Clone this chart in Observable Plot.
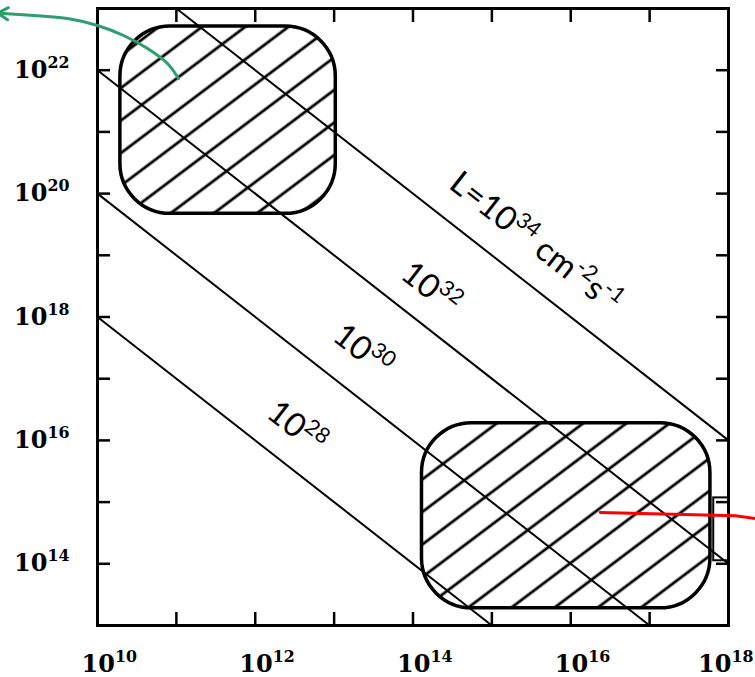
<!DOCTYPE html>
<html><head><meta charset="utf-8">
<script src="https://cdn.jsdelivr.net/npm/d3@7"></script>
<script src="https://cdn.jsdelivr.net/npm/@observablehq/plot@0.6"></script>
<style>body{margin:0;background:#fff}</style>
</head><body><div id="chart"></div>
<script>
// Luminosity lines (constant L), endpoints
const lumLabels = ["L=10{34} cm{-2}s{-1}", "10{32}", "10{30}", "10{28}"];
const lumStartX = [1e11, 1e10, 1e10, 1e10];
const lumStartY = [1e23, 1e22, 1e20, 1e18];
const lumEndX = [1e18, 1e18, 1e17, 1e15];
const lumEndY = [1e16, 1e14, 1e13, 1e13];
const labelX = [3.57e15, 1.67e14, 2.29e13, 3.33e12];
const labelY = [1.61e19, 2.9e18, 2.86e17, 1.62e16];

// Hatched regions
const regionNames = ["upper", "lower"];
const regionX1 = [1.95e10, 1.3e14];
const regionX2 = [1.05e13, 5.9e17];
const regionY1 = [4.7e19, 1.9e13];
const regionY2 = [5.1e22, 1.9e16];

// small bracket box at right edge
const boxX = [6.5e17, 1e18];
const boxY = [1.12e14, 1.17e15];

// Axes
const xTickValues = [1e11, 1e12, 1e13, 1e14, 1e15, 1e16, 1e17];
const xLabelValues = [1e10, 1e12, 1e14, 1e16];
const xLastLabel = [1e18];
const yTickValues = [1e14, 1e15, 1e16, 1e17, 1e18, 1e19, 1e20, 1e21, 1e22];
const yLabelValues = [1e14, 1e16, 1e18, 1e20, 1e22];

// Annotations: green curved arrow (points along the curve, tip last)
const greenCurveX = [1.064e11, 7.72e10, 4.31e10, 2.14e10, 1e10, 4.17e9, 1.55e9];
const greenCurveY = [7.33e21, 1.285e22, 2.25e22, 3.65e22, 5.3e22, 6.88e22, 7.71e22];
const greenTipX = 5.4e8;
const greenTipY = 8.45e22;
const redLineX = [2.37e16, 1.22e18, 2.19e18];
const redLineY = [6.8e14, 6.0e14, 5.4e14];

const segments = lumLabels.map((l, i) => ({label: l, x1: lumStartX[i], y1: lumStartY[i], x2: lumEndX[i], y2: lumEndY[i], lx: labelX[i], ly: labelY[i]}));
const regions = regionNames.map((n, i) => ({name: n, x1: regionX1[i], x2: regionX2[i], y1: regionY1[i], y2: regionY2[i]}));
const redPts = redLineX.map((x, i) => ({x, y: redLineY[i]}));
const greenPts = greenCurveX.map((x, i) => ({x, y: greenCurveY[i]}));
const greenHead = [{x1: greenCurveX[greenCurveX.length - 1], y1: greenCurveY[greenCurveY.length - 1], x2: greenTipX, y2: greenTipY}];
const expFmt = d => `10{${Math.round(Math.log10(d))}}`;

const svg = Plot.plot({
  width: 755, height: 677,
  marginLeft: 97, marginRight: 27, marginTop: 8, marginBottom: 52,
  style: {fontFamily: "DejaVu Serif", background: "white", color: "black", overflow: "visible"},
  x: {type: "log", domain: [1e10, 1e18]},
  y: {type: "log", domain: [1e13, 1e23]},
  marks: [
    Plot.rect(regions, {x1: "x1", x2: "x2", y1: "y1", y2: "y2", rx: 50, fill: "url(#hatch)", stroke: "black", strokeWidth: 3.5}),
    Plot.rect([{x1: boxX[0], x2: boxX[1], y1: boxY[0], y2: boxY[1]}], {x1: "x1", x2: "x2", y1: "y1", y2: "y2", fill: "none", stroke: "black", strokeWidth: 2}),
    Plot.link(segments, {x1: "x1", y1: "y1", x2: "x2", y2: "y2", stroke: "black", strokeWidth: 2}),
    Plot.text(segments, {x: "lx", y: "ly", text: "label", rotate: 38, fontSize: 33, fontFamily: "Lato", fill: "black"}),
    Plot.frame({stroke: "black", strokeWidth: 3}),
    Plot.axisX({anchor: "bottom", ticks: xTickValues, tickSize: -13, strokeWidth: 2.5, tickFormat: () => "", label: null}),
    Plot.axisX({anchor: "top", ticks: xTickValues, tickSize: -13, strokeWidth: 2.5, tickFormat: () => "", label: null}),
    Plot.axisY({anchor: "left", ticks: yTickValues, tickSize: -13, strokeWidth: 2.5, tickFormat: () => "", label: null}),
    Plot.axisY({anchor: "right", ticks: yTickValues, tickSize: -13, strokeWidth: 2.5, tickFormat: () => "", label: null}),
    Plot.axisX({anchor: "bottom", ticks: xLabelValues, tickSize: 0, tickPadding: 29, tickFormat: expFmt, textAnchor: "start", dx: -16, fontSize: 24, fontWeight: "bold", label: null}),
    Plot.axisX({anchor: "bottom", ticks: xLastLabel, tickSize: 0, tickPadding: 29, tickFormat: expFmt, textAnchor: "end", dx: 25, fontSize: 24, fontWeight: "bold", label: null}),
    Plot.axisY({anchor: "left", ticks: yLabelValues, tickSize: 0, tickPadding: 28, tickFormat: expFmt, fontSize: 24, fontWeight: "bold", label: null}),
    Plot.line(greenPts, {x: "x", y: "y", curve: "catmull-rom", stroke: "#2e9e6e", strokeWidth: 3}),
    Plot.arrow(greenHead, {x1: "x1", y1: "y1", x2: "x2", y2: "y2", stroke: "#2e9e6e", strokeWidth: 3, headLength: 14}),
    Plot.line(redPts, {x: "x", y: "y", stroke: "#ff0000", strokeWidth: 3})
  ]
});

// hatch pattern
const ns = "http://www.w3.org/2000/svg";
const defs = document.createElementNS(ns, "defs");
defs.innerHTML = `<pattern id="hatch" patternUnits="userSpaceOnUse" width="12" height="26" patternTransform="rotate(-37)"><rect width="12" height="26" fill="white"/><line x1="-1" y1="13" x2="13" y2="13" stroke="black" stroke-width="2.8"/></pattern>`;
svg.insertBefore(defs, svg.firstChild);

// superscripts: "a{b}c" -> tspans
svg.querySelectorAll("text").forEach(t => {
  const s = t.textContent;
  if (!s.includes("{")) return;
  while (t.firstChild) t.removeChild(t.firstChild);
  const parts = s.split(/(\{[^}]*\})/).filter(p => p.length);
  for (const p of parts) {
    const ts = document.createElementNS(ns, "tspan");
    if (p.startsWith("{")) {
      ts.textContent = p.slice(1, -1);
      ts.setAttribute("font-size", "66%");
      ts.setAttribute("baseline-shift", "0.62em");
    } else {
      ts.textContent = p;
    }
    t.appendChild(ts);
  }
});

document.getElementById("chart").appendChild(svg);
</script>
</body></html>
